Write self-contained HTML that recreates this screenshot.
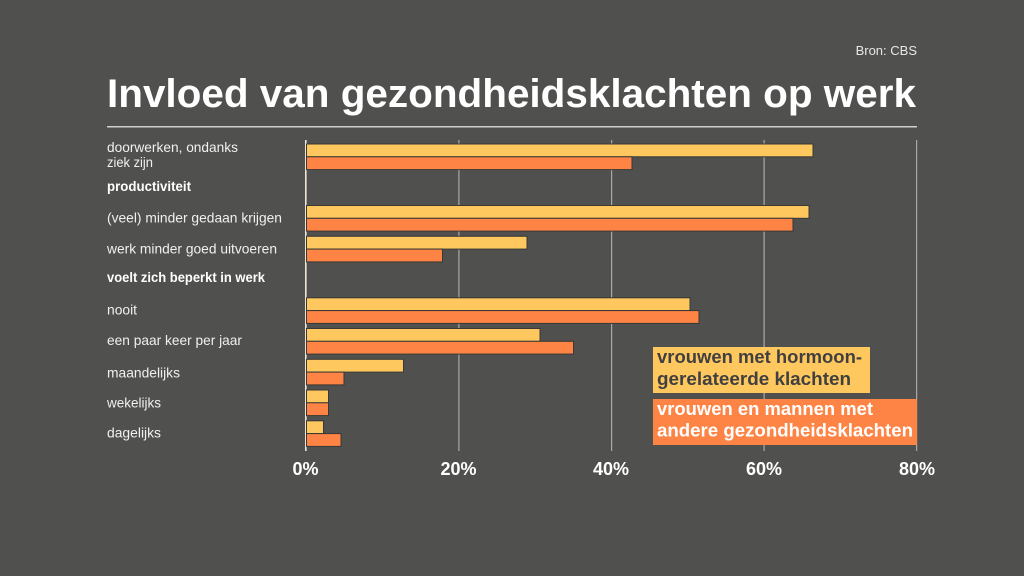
<!DOCTYPE html>
<html><head><meta charset="utf-8"><style>
html,body{margin:0;padding:0;background:#50504e;}
svg{display:block;}
text{font-family:"Liberation Sans",sans-serif;}
</style></head><body>
<svg width="1024" height="576" viewBox="0 0 1024 576" xmlns="http://www.w3.org/2000/svg">
<rect width="1024" height="576" fill="#50504e"/>
<text x="917" y="55" text-anchor="end" font-size="13" fill="#e8e8e8">Bron: CBS</text>
<text x="107" y="107" font-size="40" font-weight="bold" fill="#ffffff" textLength="809" lengthAdjust="spacingAndGlyphs">Invloed van gezondheidsklachten op werk</text>
<rect x="107" y="126" width="810" height="1.5" fill="#cfcfcf"/>

<!-- gridlines -->
<g fill="#a8a8a8">
<rect x="458.3" y="140" width="1.2" height="311"/>
<rect x="611" y="140" width="1.2" height="311"/>
<rect x="763.5" y="140" width="1.2" height="311"/>
<rect x="916" y="140" width="1.2" height="311"/>
</g>
<rect x="305" y="140" width="1.6" height="311" fill="#ece6d6"/>

<!-- bars -->
<g stroke="#383836" stroke-width="1">
<rect x="306.5" y="144" width="506.5" height="12.8" fill="#fec85f"/>
<rect x="306.5" y="156.8" width="325.5" height="12.8" fill="#fd8444"/>

<rect x="306.5" y="205.5" width="502.5" height="12.8" fill="#fec85f"/>
<rect x="306.5" y="218.3" width="486.5" height="12.8" fill="#fd8444"/>

<rect x="306.5" y="236.3" width="220.5" height="12.8" fill="#fec85f"/>
<rect x="306.5" y="249.1" width="136" height="12.8" fill="#fd8444"/>

<rect x="306.5" y="297.8" width="383.5" height="12.8" fill="#fec85f"/>
<rect x="306.5" y="310.6" width="392.5" height="12.8" fill="#fd8444"/>

<rect x="306.5" y="328.5" width="233.5" height="12.8" fill="#fec85f"/>
<rect x="306.5" y="341.3" width="267" height="12.8" fill="#fd8444"/>

<rect x="306.5" y="359.3" width="97" height="12.8" fill="#fec85f"/>
<rect x="306.5" y="372.1" width="37.5" height="12.8" fill="#fd8444"/>

<rect x="306.5" y="390" width="22" height="12.8" fill="#fec85f"/>
<rect x="306.5" y="402.8" width="22" height="12.8" fill="#fd8444"/>

<rect x="306.5" y="420.8" width="17" height="12.8" fill="#fec85f"/>
<rect x="306.5" y="433.6" width="34.5" height="12.8" fill="#fd8444"/>
</g>

<!-- labels -->
<g font-size="14" fill="#f0f0f0">
<text x="107" y="152" textLength="131" lengthAdjust="spacingAndGlyphs">doorwerken, ondanks</text>
<text x="107" y="167" textLength="46" lengthAdjust="spacingAndGlyphs">ziek zijn</text>
<text x="107" y="191" font-weight="bold" fill="#ffffff" textLength="84" lengthAdjust="spacingAndGlyphs">productiviteit</text>
<text x="107" y="222.7" textLength="175" lengthAdjust="spacingAndGlyphs">(veel) minder gedaan krijgen</text>
<text x="107" y="253.3" textLength="170" lengthAdjust="spacingAndGlyphs">werk minder goed uitvoeren</text>
<text x="107" y="282" font-weight="bold" fill="#ffffff" textLength="158" lengthAdjust="spacingAndGlyphs">voelt zich beperkt in werk</text>
<text x="107" y="314.3" textLength="30" lengthAdjust="spacingAndGlyphs">nooit</text>
<text x="107" y="345" textLength="135" lengthAdjust="spacingAndGlyphs">een paar keer per jaar</text>
<text x="107" y="377.3" textLength="73" lengthAdjust="spacingAndGlyphs">maandelijks</text>
<text x="107" y="407.5" textLength="54" lengthAdjust="spacingAndGlyphs">wekelijks</text>
<text x="107" y="437.7" textLength="54" lengthAdjust="spacingAndGlyphs">dagelijks</text>
</g>

<!-- axis labels -->
<g font-size="18" font-weight="bold" fill="#ffffff" text-anchor="middle">
<text x="305.5" y="475">0%</text>
<text x="458.5" y="475">20%</text>
<text x="611" y="475">40%</text>
<text x="764" y="475">60%</text>
<text x="917" y="475">80%</text>
</g>

<!-- legend -->
<rect x="653" y="347" width="217" height="46" fill="#fec85f"/>
<rect x="653" y="399" width="264" height="46" fill="#fd8444"/>
<g font-size="18" font-weight="bold">
<text x="657" y="363" fill="#404040" textLength="205" lengthAdjust="spacingAndGlyphs">vrouwen met hormoon-</text>
<text x="657" y="385" fill="#404040" textLength="194" lengthAdjust="spacingAndGlyphs">gerelateerde klachten</text>
<text x="657" y="415" fill="#ffffff" textLength="216" lengthAdjust="spacingAndGlyphs">vrouwen en mannen met</text>
<text x="657" y="436.5" fill="#ffffff" textLength="256" lengthAdjust="spacingAndGlyphs">andere gezondheidsklachten</text>
</g>
</svg>
</body></html>
